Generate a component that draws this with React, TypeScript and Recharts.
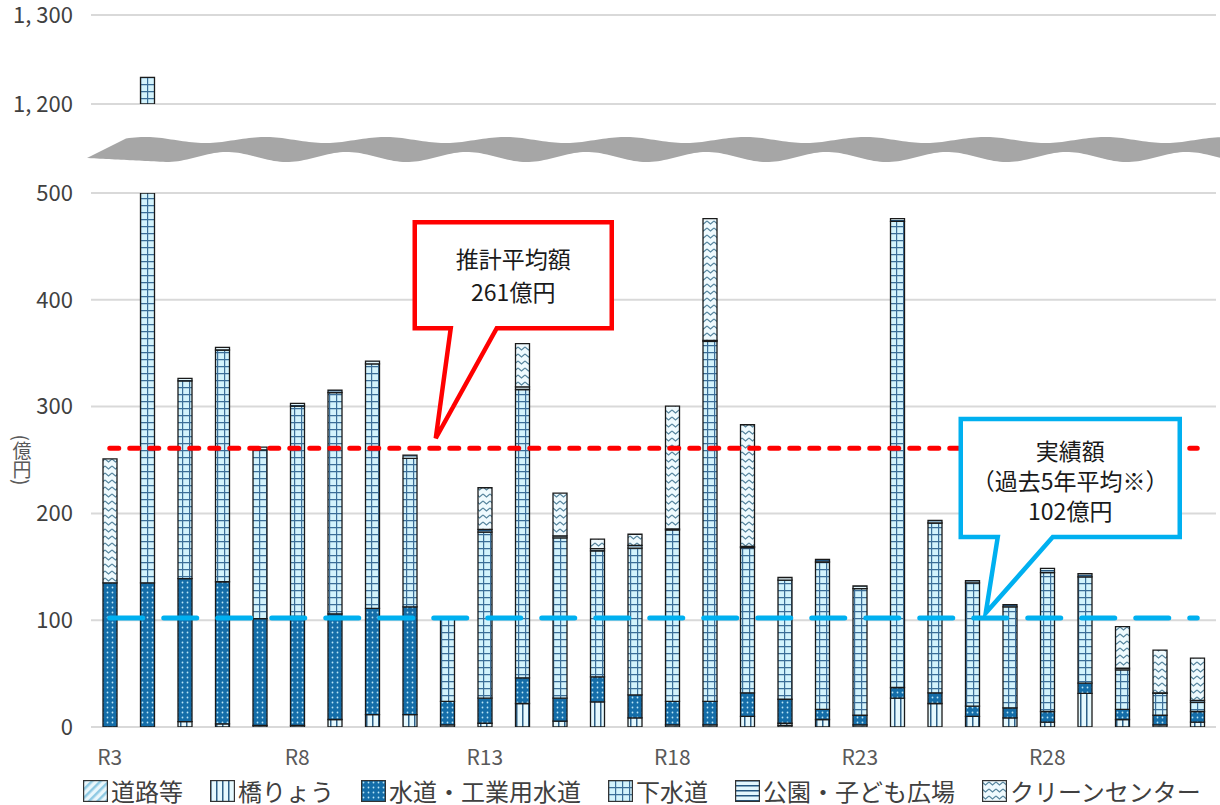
import React from "react";
import { BarChart, Bar, XAxis, YAxis, CartesianGrid, ReferenceLine } from "recharts";

const years = [
  "R3", "R4", "R5", "R6", "R7", "R8", "R9", "R10", "R11", "R12",
  "R13", "R14", "R15", "R16", "R17", "R18", "R19", "R20", "R21", "R22",
  "R23", "R24", "R25", "R26", "R27", "R28", "R29", "R30", "R31", "R32",
];

// 億円
const road = [0, 0, 0, 0, 1.5, 1.5, 0, 0, 0, 2, 0, 0, 0, 0, 0, 2, 2, 0, 1.5, 0, 2, 0, 0, 0, 0, 0, 0, 0, 2, 0];
const bridge = [0, 0, 5, 3, 0, 0, 7, 11.5, 11.5, 0, 3.5, 22, 5.5, 23.5, 8.5, 0, 0, 10, 2, 7, 0, 27, 22, 10, 8.5, 4.5, 31.5, 7, 0, 4.5];
const water = [135, 135, 134, 133, 100, 102, 99, 99.5, 101, 22, 23.5, 24, 21.5, 23.5, 21.5, 22, 22, 22, 22.5, 9.5, 9, 10, 10, 9.5, 9.5, 10, 9.5, 9.5, 9, 10];
const sewer = [0, 1095, 185, 217, 158, 197, 207, 229, 139, 77.5, 155.5, 270, 150, 118, 137.5, 160.5, 337, 136, 111.5, 138, 118.5, 436.5, 159, 115.5, 94.5, 130, 99.5, 37, 20.5, 8.5];
const parks = [0, 0, 2.5, 2.5, 2.5, 2.5, 2.5, 2.5, 3, 1.5, 2.5, 2.5, 2, 2, 2.5, 1, 1, 1, 2.5, 2.5, 2.5, 2.5, 2.5, 2, 2, 4, 3, 1.5, 0.5, 2];
const clean = [116, 0, 0, 0, 0, 0, 0, 0, 0, 0, 39, 40.5, 40, 9, 10.5, 115, 114, 114, 0, 0, 0, 0, 0, 0, 0, 0, 0, 39, 40, 39.5];

const estimateAvg = 261;
const actualAvg = 102;

const lowerTicks = [0, 100, 200, 300, 400, 500];
const upperTicks = [1200, 1300];

const series = [
  { key: "road", label: "道路等", fill: "url(#pRoad)" },
  { key: "bridge", label: "橋りょう", fill: "url(#pBridge)" },
  { key: "water", label: "水道・工業用水道", fill: "url(#pWater)" },
  { key: "sewer", label: "下水道", fill: "url(#pSewer)" },
  { key: "parks", label: "公園・子ども広場", fill: "url(#pParks)" },
  { key: "clean", label: "クリーンセンター", fill: "url(#pClean)" },
];

const data = years.map((name, i) => ({
  name,
  road: road[i],
  bridge: bridge[i],
  water: water[i],
  sewer: sewer[i],
  parks: parks[i],
  clean: clean[i],
}));

const NARROW = "'Liberation Sans Narrow', 'Noto Sans CJK JP', sans-serif";
const JP = "'Noto Sans CJK JP', sans-serif";

const fmt = (v: number) =>
  v >= 1000 ? `${Math.floor(v / 1000)}, ${String(v % 1000).padStart(3, "0")}` : String(v);

function Patterns() {
  return (
    <svg width={0} height={0} style={{ position: "absolute" }}>
      <defs>
        <pattern id="pRoad" width="6" height="6" patternUnits="userSpaceOnUse" patternTransform="rotate(45)">
          <rect width="6" height="6" fill="#eaf7fc" />
          <rect width="2.5" height="6" fill="#8ec9e3" />
        </pattern>
        <pattern id="pBridge" width="6" height="6" patternUnits="userSpaceOnUse">
          <rect width="6" height="6" fill="#e6f9fe" />
          <rect width="1.5" height="6" fill="#2d5f87" />
        </pattern>
        <pattern id="pWater" width="5" height="5" patternUnits="userSpaceOnUse">
          <rect width="5" height="5" fill="#146da8" />
          <circle cx="2.5" cy="2.5" r="0.9" fill="#b9e6f7" />
        </pattern>
        <pattern id="pSewer" width="7" height="7" patternUnits="userSpaceOnUse">
          <rect width="7" height="7" fill="#d3f3fc" />
          <path d="M0 0.6 H7 M0.6 0 V7" stroke="#3b6e98" strokeWidth="1.2" />
        </pattern>
        <pattern id="pParks" width="6" height="5" patternUnits="userSpaceOnUse">
          <rect width="6" height="5" fill="#e4f7fd" />
          <rect width="6" height="1.5" fill="#23557f" />
        </pattern>
        <pattern id="pClean" width="7" height="7" patternUnits="userSpaceOnUse">
          <rect width="7" height="7" fill="#effafe" />
          <path d="M0 2 L3.5 5 L7 2" stroke="#55849d" strokeWidth="1.1" fill="none" />
        </pattern>
      </defs>
    </svg>
  );
}

function Callout(props: any) {
  const { viewBox, color, lines, box, base, tip, first, step } = props;
  const x0 = viewBox?.x ?? 0;
  const y0 = viewBox?.y ?? 0;
  const l = x0 + box[0];
  const t = y0 + box[1];
  const r = x0 + box[2];
  const b = y0 + box[3];
  const d = `M${l},${t} L${r},${t} L${r},${b} L${x0 + base[1]},${b} L${x0 + tip[0]},${y0 + tip[1]} L${x0 + base[0]},${b} L${l},${b} Z`;
  return (
    <g>
      <path d={d} fill="#fff" stroke={color} strokeWidth={4.5} strokeLinejoin="miter" />
      {lines.map((s: string, i: number) => (
        <text
          key={i}
          x={(l + r) / 2}
          y={t + first + i * step}
          textAnchor="middle"
          dominantBaseline="central"
          fontSize={23}
          fontFamily={NARROW}
          fill="#1a1a1a"
        >
          {s}
        </text>
      ))}
    </g>
  );
}

function UnitLabel(props: any) {
  const { viewBox } = props;
  const cx = (viewBox?.x ?? 0) + 22;
  const cy = (viewBox?.y ?? 0) + (viewBox?.height ?? 0) / 2;
  return (
    <text
      x={cx}
      y={cy}
      textAnchor="middle"
      fontSize={19}
      fontFamily={NARROW}
      fill="#595959"
      style={{ writingMode: "vertical-rl" } as any}
    >
      (億円)
    </text>
  );
}

function stackBars() {
  return series.map((s) => (
    <Bar
      key={s.key}
      dataKey={s.key}
      stackId="a"
      fill={s.fill}
      stroke="#1a1a1a"
      strokeWidth={1.3}
      barSize={14}
      isAnimationActive={false}
    />
  ));
}

function Wave() {
  const top: string[] = [];
  const bottom: string[] = [];
  for (let x = 87; x <= 1222; x += 3) {
    let yt = 140 - 3 * Math.cos((2 * Math.PI * (x - 145)) / 120);
    if (x < 127) yt = 158 + ((x - 87) / 40) * (138 - 158);
    top.push(`${x},${yt.toFixed(1)}`);
  }
  for (let x = 1222; x >= 87; x -= 3) {
    let yb = 157 + 5 * Math.cos((2 * Math.PI * (x - 167)) / 120);
    if (x < 167) yb = 158 + ((x - 87) / 80) * (162 - 158);
    bottom.push(`${x},${yb.toFixed(1)}`);
  }
  return (
    <svg width={1220} height={200} style={{ position: "absolute", left: 0, top: 0, pointerEvents: "none" }}>
      <path d={`M${top.join(" L")} L${bottom.join(" L")} Z`} fill="#a6a6a6" />
    </svg>
  );
}

function LegendRow() {
  return (
    <div
      style={{
        position: "absolute",
        left: 83,
        top: 779,
        display: "flex",
        alignItems: "center",
        fontFamily: JP,
        fontSize: 24,
        lineHeight: "24px",
        color: "#404040",
        whiteSpace: "nowrap",
      }}
    >
      {series.map((s) => (
        <div key={s.key} style={{ display: "flex", alignItems: "center", marginRight: 27 }}>
          <svg width={25} height={22} style={{ marginRight: 3 }}>
            <rect x={0.6} y={0.6} width={23.8} height={20.8} fill={s.fill} stroke="#333" strokeWidth={1.2} />
          </svg>
          <span>{s.label}</span>
        </div>
      ))}
    </div>
  );
}

export default function App() {
  return (
    <div style={{ position: "absolute", left: 0, top: 0, width: 1220, height: 805, background: "#fff" }}>
      <Patterns />
      <div style={{ position: "absolute", left: 0, top: 0 }}>
        <BarChart width={1220} height={120} data={data} margin={{ top: 15, right: 4, left: 0, bottom: 16 }}>
          <CartesianGrid vertical={false} stroke="#d9d9d9" strokeWidth={2} />
          <XAxis dataKey="name" hide />
          <YAxis
            width={91}
            domain={[1200, 1300]}
            ticks={upperTicks}
            allowDataOverflow
            axisLine={false}
            tickLine={false}
            tickMargin={12}
            tickFormatter={fmt}
            tick={{ fill: "#404040", fontSize: 22, fontFamily: NARROW }}
          />
          {stackBars()}
        </BarChart>
      </div>
      <Wave />
      <div style={{ position: "absolute", left: 0, top: 170 }}>
        <BarChart width={1220} height={610} data={data} margin={{ top: 23, right: 4, left: 0, bottom: 0 }}>
          <CartesianGrid vertical={false} stroke="#d9d9d9" strokeWidth={2} />
          <XAxis
            dataKey="name"
            height={53}
            interval={4}
            axisLine={false}
            tickLine={false}
            tickMargin={17}
            tick={{ fill: "#595959", fontSize: 21, fontFamily: NARROW }}
          />
          <YAxis
            width={91}
            domain={[0, 500]}
            ticks={lowerTicks}
            allowDataOverflow
            axisLine={false}
            tickLine={false}
            tickMargin={12}
            tickFormatter={fmt}
            tick={{ fill: "#404040", fontSize: 22, fontFamily: NARROW }}
            label={<UnitLabel />}
          />
          {stackBars()}
          <ReferenceLine
            segment={[{ x: "R3", y: estimateAvg }, { x: "R32", y: estimateAvg }]}
            stroke="#ff0000"
            strokeWidth={5}
            strokeDasharray="9 11"
            strokeLinecap="round"
            label={
              <Callout
                color="#ff0000"
                lines={["推計平均額", "261億円"]}
                box={[305, -226, 502, -120]}
                base={[341, 387]}
                tip={[326, -10]}
                first={36}
                step={33}
              />
            }
          />
          <ReferenceLine
            segment={[{ x: "R3", y: actualAvg }, { x: "R32", y: actualAvg }]}
            stroke="#00b0f0"
            strokeWidth={5}
            strokeDasharray="33 21"
            strokeLinecap="round"
            label={
              <Callout
                color="#00b0f0"
                lines={["実績額", "（過去5年平均※）", "102億円"]}
                box={[851, -199, 1070, -81]}
                base={[888, 943]}
                tip={[876, -5]}
                first={31}
                step={30}
              />
            }
          />
        </BarChart>
      </div>
      <LegendRow />
    </div>
  );
}
